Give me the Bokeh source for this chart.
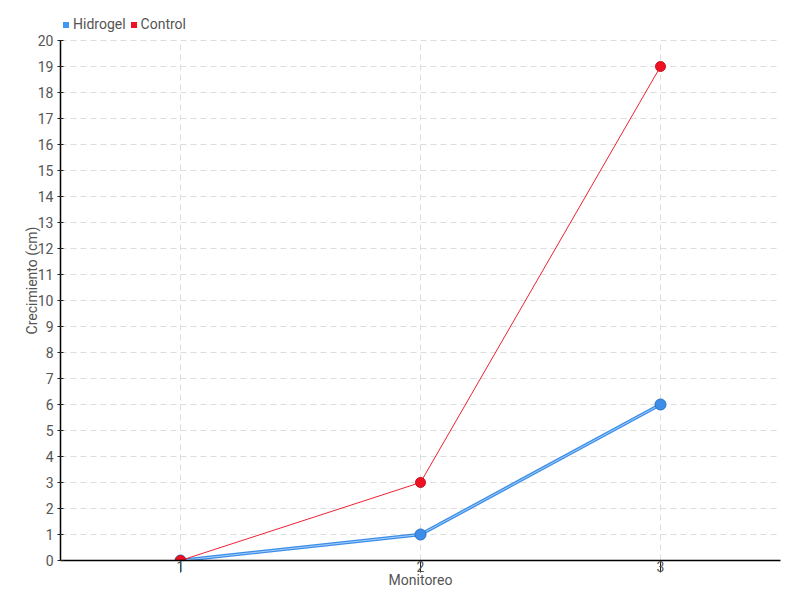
from bokeh.plotting import figure
from bokeh.models import FixedTicker, Range1d, Legend, LegendItem
from bokeh.embed import file_html
from bokeh.resources import INLINE

monitoreo = [1, 2, 3]
hidrogel = [0, 1, 6]
control = [0, 3, 19]
x_ticks = [1, 2, 3]
y_ticks = list(range(0, 21))
y_max = 20

FONT = "Roboto"
TXT = "#555555"

# frame spans the full height above the x axis; extra 40px headroom above y=20 holds the legend
frame_h = 560
data_h = 520
p = figure(width=800, height=600, output_backend="svg", toolbar_location=None,
           x_range=Range1d(0.5, 3.5), y_range=Range1d(0, y_max * frame_h / data_h),
           min_border_left=60, min_border_right=20, min_border_top=0, min_border_bottom=40)
p.outline_line_color = None

for ax in (p.xaxis[0], p.yaxis[0]):
    ax.axis_line_color = "black"
    ax.axis_line_width = 1.5
    ax.major_tick_line_color = "#222222"
    ax.minor_tick_line_color = None
    ax.major_label_text_font = FONT
    ax.major_label_text_font_size = "14px"
    ax.major_label_text_color = TXT
    ax.axis_label_text_font = FONT
    ax.axis_label_text_font_size = "14px"
    ax.axis_label_text_font_style = "normal"
    ax.axis_label_text_color = TXT

p.yaxis.bounds = (0, y_max)
p.xaxis.ticker = FixedTicker(ticks=x_ticks)
p.yaxis.ticker = FixedTicker(ticks=y_ticks)
p.xaxis.axis_label = "Monitoreo"
p.yaxis.axis_label = "Crecimiento (cm)"
p.xaxis.major_tick_out = 12
p.xaxis.major_tick_in = 0
p.xaxis.major_label_standoff = -12
p.xaxis.axis_label_standoff = -3
p.yaxis.major_tick_out = 3
p.yaxis.major_tick_in = 3
p.yaxis.major_label_standoff = 4
p.yaxis.axis_label_standoff = -5

p.xgrid.visible = False
p.ygrid.ticker = FixedTicker(ticks=y_ticks)
p.ygrid.grid_line_color = "#dddddd"
p.ygrid.grid_line_dash = "6 4"
p.ygrid.grid_line_width = 1

# vertical grid lines limited to the data area
p.segment(x0=x_ticks, y0=[0] * len(x_ticks), x1=x_ticks, y1=[y_max] * len(x_ticks),
          line_color="#dddddd", line_dash="6 4", line_width=1)

# legend proxies (square swatches hidden beneath the first markers)
lh = p.scatter(monitoreo[:1], hidrogel[:1], marker="square", size=7, fill_color="#3d98f5", line_color=None)
lc = p.scatter(monitoreo[:1], control[:1], marker="square", size=7, fill_color="#ee1122", line_color=None)

# Hidrogel
p.line(monitoreo, hidrogel, line_color="#3d8ee8", line_width=3.5)
p.line(monitoreo, hidrogel, line_color="#bcdcff", line_width=1, line_alpha=0.8)
p.scatter(monitoreo, hidrogel, size=11, fill_color="#3d8ee8", line_color="#2a6fc4", line_width=1)

# Control
p.line(monitoreo, control, line_color="#ee2233", line_width=1)
p.scatter(monitoreo, control, size=10, fill_color="#ee1122", line_color="#cc1020", line_width=1)

legend = Legend(items=[LegendItem(label="Hidrogel", renderers=[lh]),
                       LegendItem(label="Control", renderers=[lc])],
                orientation="horizontal", location=(-2, 528),
                padding=0, margin=0, spacing=0, glyph_width=15, glyph_height=15,
                label_standoff=0, label_text_font=FONT, label_text_font_size="14px",
                label_text_color=TXT, background_fill_alpha=0, border_line_color=None,
                label_height=15)
p.add_layout(legend, "center")

open("out.html", "w").write(file_html(p, INLINE))
